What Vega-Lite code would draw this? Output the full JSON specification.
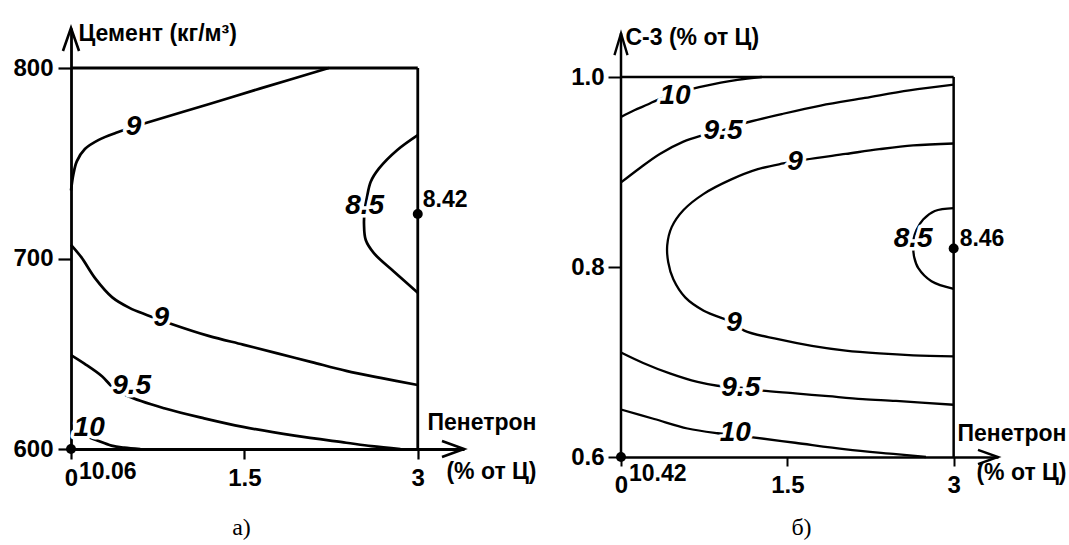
{
  "$schema": "https://vega.github.io/schema/vega-lite/v6.json",
  "background": "white",
  "padding": {"left": 12, "top": 22, "right": 2, "bottom": 2},
  "config": {
    "view": {"stroke": null},
    "font": "Liberation Sans",
    "axis": {"grid": false, "zindex": 1, "labelFont": "Liberation Sans", "labelFontWeight": "bold", "labelColor": "#000", "titleFont": "Liberation Sans", "titleFontWeight": "bold", "titleColor": "#000", "domainColor": "#000", "tickColor": "#000", "labelFlush": false, "labelOverlap": false}
  },
  "datasets": {
    "a_curves": [
      {"curve": "9 upper", "i": 0, "x": 0, "y": 735.7},
      {"curve": "9 upper", "i": 1, "x": 0.02, "y": 744},
      {"curve": "9 upper", "i": 2, "x": 0.05, "y": 751},
      {"curve": "9 upper", "i": 3, "x": 0.12, "y": 757.5},
      {"curve": "9 upper", "i": 4, "x": 0.24, "y": 762.3},
      {"curve": "9 upper", "i": 5, "x": 0.39, "y": 766},
      {"curve": "9 upper", "i": 6, "x": 0.54, "y": 769},
      {"curve": "9 upper", "i": 7, "x": 0.64, "y": 771},
      {"curve": "9 upper", "i": 8, "x": 1.19, "y": 781},
      {"curve": "9 upper", "i": 9, "x": 1.64, "y": 789.3},
      {"curve": "9 upper", "i": 10, "x": 2.23, "y": 800},
      {"curve": "8.5", "i": 0, "x": 3, "y": 764.8},
      {"curve": "8.5", "i": 1, "x": 2.823, "y": 757},
      {"curve": "8.5", "i": 2, "x": 2.665, "y": 747.3},
      {"curve": "8.5", "i": 3, "x": 2.593, "y": 740.3},
      {"curve": "8.5", "i": 4, "x": 2.56, "y": 732},
      {"curve": "8.5", "i": 5, "x": 2.54, "y": 725},
      {"curve": "8.5", "i": 6, "x": 2.535, "y": 718},
      {"curve": "8.5", "i": 7, "x": 2.55, "y": 709.7},
      {"curve": "8.5", "i": 8, "x": 2.622, "y": 702.7},
      {"curve": "8.5", "i": 9, "x": 2.795, "y": 693.1},
      {"curve": "8.5", "i": 10, "x": 3, "y": 682},
      {"curve": "9 lower", "i": 0, "x": 0, "y": 707.2},
      {"curve": "9 lower", "i": 1, "x": 0.089, "y": 700.7},
      {"curve": "9 lower", "i": 2, "x": 0.208, "y": 689.7},
      {"curve": "9 lower", "i": 3, "x": 0.357, "y": 679.6},
      {"curve": "9 lower", "i": 4, "x": 0.506, "y": 674.1},
      {"curve": "9 lower", "i": 5, "x": 0.655, "y": 670.4},
      {"curve": "9 lower", "i": 6, "x": 0.863, "y": 665.8},
      {"curve": "9 lower", "i": 7, "x": 1.19, "y": 659.4},
      {"curve": "9 lower", "i": 8, "x": 1.488, "y": 654.8},
      {"curve": "9 lower", "i": 9, "x": 1.786, "y": 650.2},
      {"curve": "9 lower", "i": 10, "x": 2.083, "y": 645.6},
      {"curve": "9 lower", "i": 11, "x": 2.381, "y": 641},
      {"curve": "9 lower", "i": 12, "x": 2.679, "y": 637.3},
      {"curve": "9 lower", "i": 13, "x": 3, "y": 633.6},
      {"curve": "9.5", "i": 0, "x": 0, "y": 649.3},
      {"curve": "9.5", "i": 1, "x": 0.119, "y": 644.7},
      {"curve": "9.5", "i": 2, "x": 0.268, "y": 638.2},
      {"curve": "9.5", "i": 3, "x": 0.36, "y": 632.5},
      {"curve": "9.5", "i": 4, "x": 0.49, "y": 627.8},
      {"curve": "9.5", "i": 5, "x": 0.806, "y": 621.4},
      {"curve": "9.5", "i": 6, "x": 1.152, "y": 616.1},
      {"curve": "9.5", "i": 7, "x": 1.488, "y": 611.6},
      {"curve": "9.5", "i": 8, "x": 1.935, "y": 607},
      {"curve": "9.5", "i": 9, "x": 2.381, "y": 603.3},
      {"curve": "9.5", "i": 10, "x": 2.6, "y": 601.5},
      {"curve": "9.5", "i": 11, "x": 2.85, "y": 600},
      {"curve": "10", "i": 0, "x": 0, "y": 609},
      {"curve": "10", "i": 1, "x": 0.1, "y": 607.3},
      {"curve": "10", "i": 2, "x": 0.216, "y": 604.7},
      {"curve": "10", "i": 3, "x": 0.35, "y": 601.8},
      {"curve": "10", "i": 4, "x": 0.46, "y": 600.7},
      {"curve": "10", "i": 5, "x": 0.6, "y": 600}
    ],
    "a_labels": [
      {"level": 9, "x": 0.54, "y": 769},
      {"level": 8.5, "x": 2.541, "y": 727.6},
      {"level": 9, "x": 0.78, "y": 668.6},
      {"level": 9.5, "x": 0.525, "y": 633},
      {"level": 10, "x": 0.157, "y": 611}
    ],
    "a_points": [
      {"x": 0, "y": 600, "value": 10.06},
      {"x": 3, "y": 723.4, "value": 8.42}
    ],
    "b_curves": [
      {"curve": "10 upper", "i": 0, "x": 0, "y": 0.958},
      {"curve": "10 upper", "i": 1, "x": 0.12, "y": 0.965},
      {"curve": "10 upper", "i": 2, "x": 0.24, "y": 0.971},
      {"curve": "10 upper", "i": 3, "x": 0.33, "y": 0.976},
      {"curve": "10 upper", "i": 4, "x": 0.49, "y": 0.982},
      {"curve": "10 upper", "i": 5, "x": 0.66, "y": 0.988},
      {"curve": "10 upper", "i": 6, "x": 0.9, "y": 0.994},
      {"curve": "10 upper", "i": 7, "x": 1.05, "y": 0.997},
      {"curve": "10 upper", "i": 8, "x": 1.27, "y": 1.0},
      {"curve": "9.5 upper", "i": 0, "x": 0, "y": 0.889},
      {"curve": "9.5 upper", "i": 1, "x": 0.168, "y": 0.904},
      {"curve": "9.5 upper", "i": 2, "x": 0.35, "y": 0.919},
      {"curve": "9.5 upper", "i": 3, "x": 0.563, "y": 0.932},
      {"curve": "9.5 upper", "i": 4, "x": 0.716, "y": 0.938},
      {"curve": "9.5 upper", "i": 5, "x": 0.92, "y": 0.944},
      {"curve": "9.5 upper", "i": 6, "x": 1.1, "y": 0.951},
      {"curve": "9.5 upper", "i": 7, "x": 1.45, "y": 0.961},
      {"curve": "9.5 upper", "i": 8, "x": 1.8, "y": 0.97},
      {"curve": "9.5 upper", "i": 9, "x": 2.2, "y": 0.978},
      {"curve": "9.5 upper", "i": 10, "x": 2.6, "y": 0.986},
      {"curve": "9.5 upper", "i": 11, "x": 3, "y": 0.992},
      {"curve": "9", "i": 0, "x": 3, "y": 0.93},
      {"curve": "9", "i": 1, "x": 2.635, "y": 0.928},
      {"curve": "9", "i": 2, "x": 2.33, "y": 0.924},
      {"curve": "9", "i": 3, "x": 2.026, "y": 0.919},
      {"curve": "9", "i": 4, "x": 1.66, "y": 0.913},
      {"curve": "9", "i": 5, "x": 1.462, "y": 0.909},
      {"curve": "9", "i": 6, "x": 1.234, "y": 0.903},
      {"curve": "9", "i": 7, "x": 0.99, "y": 0.892},
      {"curve": "9", "i": 8, "x": 0.746, "y": 0.877},
      {"curve": "9", "i": 9, "x": 0.564, "y": 0.86},
      {"curve": "9", "i": 10, "x": 0.457, "y": 0.842},
      {"curve": "9", "i": 11, "x": 0.417, "y": 0.823},
      {"curve": "9", "i": 12, "x": 0.426, "y": 0.805},
      {"curve": "9", "i": 13, "x": 0.472, "y": 0.787},
      {"curve": "9", "i": 14, "x": 0.579, "y": 0.768},
      {"curve": "9", "i": 15, "x": 0.746, "y": 0.754},
      {"curve": "9", "i": 16, "x": 1.02, "y": 0.741},
      {"curve": "9", "i": 17, "x": 1.112, "y": 0.733},
      {"curve": "9", "i": 18, "x": 1.416, "y": 0.724},
      {"curve": "9", "i": 19, "x": 1.721, "y": 0.717},
      {"curve": "9", "i": 20, "x": 2.026, "y": 0.712},
      {"curve": "9", "i": 21, "x": 2.33, "y": 0.709},
      {"curve": "9", "i": 22, "x": 2.635, "y": 0.707},
      {"curve": "9", "i": 23, "x": 3, "y": 0.706},
      {"curve": "8.5", "i": 0, "x": 3, "y": 0.862},
      {"curve": "8.5", "i": 1, "x": 2.83, "y": 0.859},
      {"curve": "8.5", "i": 2, "x": 2.725, "y": 0.85},
      {"curve": "8.5", "i": 3, "x": 2.665, "y": 0.839},
      {"curve": "8.5", "i": 4, "x": 2.64, "y": 0.83},
      {"curve": "8.5", "i": 5, "x": 2.635, "y": 0.82},
      {"curve": "8.5", "i": 6, "x": 2.645, "y": 0.81},
      {"curve": "8.5", "i": 7, "x": 2.68, "y": 0.799},
      {"curve": "8.5", "i": 8, "x": 2.8, "y": 0.785},
      {"curve": "8.5", "i": 9, "x": 3, "y": 0.777},
      {"curve": "9.5 lower", "i": 0, "x": 0, "y": 0.71},
      {"curve": "9.5 lower", "i": 1, "x": 0.2, "y": 0.699},
      {"curve": "9.5 lower", "i": 2, "x": 0.44, "y": 0.688},
      {"curve": "9.5 lower", "i": 3, "x": 0.69, "y": 0.679},
      {"curve": "9.5 lower", "i": 4, "x": 0.87, "y": 0.675},
      {"curve": "9.5 lower", "i": 5, "x": 1.08, "y": 0.673},
      {"curve": "9.5 lower", "i": 6, "x": 1.26, "y": 0.67},
      {"curve": "9.5 lower", "i": 7, "x": 1.57, "y": 0.667},
      {"curve": "9.5 lower", "i": 8, "x": 1.87, "y": 0.664},
      {"curve": "9.5 lower", "i": 9, "x": 2.18, "y": 0.661},
      {"curve": "9.5 lower", "i": 10, "x": 2.48, "y": 0.659},
      {"curve": "9.5 lower", "i": 11, "x": 3, "y": 0.655},
      {"curve": "10 lower", "i": 0, "x": 0, "y": 0.65},
      {"curve": "10 lower", "i": 1, "x": 0.3, "y": 0.64},
      {"curve": "10 lower", "i": 2, "x": 0.6, "y": 0.63},
      {"curve": "10 lower", "i": 3, "x": 0.87, "y": 0.625},
      {"curve": "10 lower", "i": 4, "x": 1.03, "y": 0.623},
      {"curve": "10 lower", "i": 5, "x": 1.17, "y": 0.621},
      {"curve": "10 lower", "i": 6, "x": 1.57, "y": 0.615},
      {"curve": "10 lower", "i": 7, "x": 2.03, "y": 0.608},
      {"curve": "10 lower", "i": 8, "x": 2.48, "y": 0.603},
      {"curve": "10 lower", "i": 9, "x": 2.75, "y": 0.6}
    ],
    "b_labels": [
      {"level": 10, "x": 0.488, "y": 0.98},
      {"level": 9.5, "x": 0.92, "y": 0.943},
      {"level": 9, "x": 1.57, "y": 0.911},
      {"level": 8.5, "x": 2.635, "y": 0.8295},
      {"level": 9, "x": 1.02, "y": 0.741},
      {"level": 9.5, "x": 1.08, "y": 0.673},
      {"level": 10, "x": 1.03, "y": 0.6253}
    ],
    "b_points": [
      {"x": 0, "y": 0.6, "value": 10.42},
      {"x": 3, "y": 0.8194, "value": 8.46}
    ]
  },
  "hconcat": [
    {
      "width": 393,
      "height": 421,
      "title": {"text": "а)", "orient": "bottom", "anchor": "middle", "frame": "group", "offset": 26, "dx": -26, "font": "Liberation Serif", "fontSize": 24, "fontWeight": "normal", "color": "#000", "baseline": "top"},
      "layer": [
        {
          "data": {"name": "a_curves"},
          "mark": {"type": "line", "color": "#000", "strokeWidth": 2.7, "interpolate": "catmull-rom"},
          "encoding": {
            "x": {"field": "x", "type": "quantitative", "scale": {"domain": [0, 3.4], "nice": false, "zero": false},
              "axis": {"values": [0, 1.5, 3], "format": "~g", "tickSize": 10, "tickWidth": 2.2, "domainWidth": 2.8, "labelFontSize": 24, "labelPadding": 7,
                "title": ["Пенетрон", "(% от Ц)"], "titleFontSize": 23, "titleAngle": 0, "titleX": 465, "titleY": -20, "titleAlign": "right", "titleBaseline": "alphabetic", "titleLineHeight": 49}},
            "y": {"field": "y", "type": "quantitative", "scale": {"domain": [600, 821], "nice": false, "zero": false},
              "axis": {"values": [600, 700, 800], "format": "d", "tickSize": 13, "tickWidth": 2.2, "domainWidth": 2.8, "labelFontSize": 24, "labelPadding": 5,
                "title": "Цемент (кг/м³)", "titleFontSize": 23, "titleAngle": 0, "titleX": 7, "titleY": 12, "titleAlign": "left", "titleBaseline": "alphabetic"}},
            "detail": {"field": "curve"},
            "order": {"field": "i", "type": "quantitative"}
          }
        },
        {
          "data": {"values": [{}]},
          "mark": {"type": "rule", "color": "#000", "strokeWidth": 2.8},
          "encoding": {"x": {"datum": 0, "type": "quantitative"}, "x2": {"datum": 3}, "y": {"datum": 800, "type": "quantitative"}}
        },
        {
          "data": {"values": [{}]},
          "mark": {"type": "rule", "color": "#000", "strokeWidth": 2.8},
          "encoding": {"x": {"datum": 3, "type": "quantitative"}, "y": {"datum": 600, "type": "quantitative"}, "y2": {"datum": 800}}
        },
        {
          "data": {"values": [{}]},
          "mark": {"type": "point", "shape": "M-1,-0.36L0,0L-1,0.36", "size": 1936, "filled": false, "color": "#000", "strokeWidth": 2.6, "opacity": 1},
          "encoding": {"x": {"datum": 3.4, "type": "quantitative"}, "y": {"datum": 600, "type": "quantitative"}}
        },
        {
          "data": {"values": [{}]},
          "mark": {"type": "point", "shape": "M-0.35,1L0,0L0.35,1", "size": 2116, "filled": false, "color": "#000", "strokeWidth": 2.6, "opacity": 1},
          "encoding": {"x": {"datum": 0, "type": "quantitative"}, "y": {"datum": 821, "type": "quantitative"}}
        },
        {
          "data": {"name": "a_labels"},
          "mark": {"type": "text", "font": "Liberation Sans", "fontSize": 28, "fontWeight": "bold", "fontStyle": "italic", "align": "center", "baseline": "middle", "fill": "#fff", "stroke": "#fff", "strokeWidth": 7, "strokeJoin": "round"},
          "encoding": {"x": {"field": "x", "type": "quantitative"}, "y": {"field": "y", "type": "quantitative"}, "text": {"field": "level", "type": "quantitative", "format": "~g"}}
        },
        {
          "data": {"name": "a_labels"},
          "mark": {"type": "text", "font": "Liberation Sans", "fontSize": 28, "fontWeight": "bold", "fontStyle": "italic", "align": "center", "baseline": "middle", "color": "#000"},
          "encoding": {"x": {"field": "x", "type": "quantitative"}, "y": {"field": "y", "type": "quantitative"}, "text": {"field": "level", "type": "quantitative", "format": "~g"}}
        },
        {
          "data": {"name": "a_points"},
          "mark": {"type": "circle", "size": 100, "color": "#000", "opacity": 1},
          "encoding": {"x": {"field": "x", "type": "quantitative"}, "y": {"field": "y", "type": "quantitative"}}
        },
        {
          "data": {"name": "a_points"},
          "transform": [{"filter": "datum.x == 0"}],
          "mark": {"type": "text", "fontSize": 23, "fontWeight": "bold", "align": "left", "baseline": "alphabetic", "dx": 8, "dy": 30, "color": "#000"},
          "encoding": {"x": {"field": "x", "type": "quantitative"}, "y": {"field": "y", "type": "quantitative"}, "text": {"field": "value", "type": "quantitative", "format": ".2f"}}
        },
        {
          "data": {"name": "a_points"},
          "transform": [{"filter": "datum.x == 3"}],
          "mark": {"type": "text", "fontSize": 23, "fontWeight": "bold", "align": "left", "baseline": "alphabetic", "dx": 5, "dy": -7, "color": "#000"},
          "encoding": {"x": {"field": "x", "type": "quantitative"}, "y": {"field": "y", "type": "quantitative"}, "text": {"field": "value", "type": "quantitative", "format": ".2f"}}
        }
      ]
    },
    {
      "width": 377,
      "height": 429,
      "title": {"text": "б)", "orient": "bottom", "anchor": "middle", "frame": "group", "offset": 19, "dx": -8, "font": "Liberation Serif", "fontSize": 24, "fontWeight": "normal", "color": "#000", "baseline": "top"},
      "layer": [
        {
          "data": {"name": "b_curves"},
          "mark": {"type": "line", "color": "#000", "strokeWidth": 2.3, "interpolate": "catmull-rom"},
          "encoding": {
            "x": {"field": "x", "type": "quantitative", "scale": {"domain": [0, 3.4], "nice": false, "zero": false},
              "axis": {"values": [0, 1.5, 3], "format": "~g", "tickSize": 9, "tickWidth": 2, "domainWidth": 2.5, "labelFontSize": 24, "labelPadding": 7,
                "title": ["Пенетрон", "(% от Ц)"], "titleFontSize": 23, "titleAngle": 0, "titleX": 445, "titleY": -17, "titleAlign": "right", "titleBaseline": "alphabetic", "titleLineHeight": 39}},
            "y": {"field": "y", "type": "quantitative", "scale": {"domain": [0.6, 1.0516], "nice": false, "zero": false},
              "axis": {"values": [0.6, 0.8, 1.0], "format": ".1f", "domain": false, "tickSize": 13, "tickWidth": 2, "labelFontSize": 24, "labelPadding": 4,
                "title": "С-3 (% от Ц)", "titleFontSize": 23, "titleAngle": 0, "titleX": 4, "titleY": 16, "titleAlign": "left", "titleBaseline": "alphabetic"}},
            "detail": {"field": "curve"},
            "order": {"field": "i", "type": "quantitative"}
          }
        },
        {
          "data": {"values": [{}]},
          "mark": {"type": "rule", "color": "#000", "strokeWidth": 2.5},
          "encoding": {"x": {"datum": 0, "type": "quantitative"}, "y": {"datum": 0.6, "type": "quantitative"}, "y2": {"datum": 1.046}}
        },
        {
          "data": {"values": [{}]},
          "mark": {"type": "rule", "color": "#000", "strokeWidth": 2.5},
          "encoding": {"x": {"datum": 0, "type": "quantitative"}, "x2": {"datum": 3}, "y": {"datum": 1.0, "type": "quantitative"}}
        },
        {
          "data": {"values": [{}]},
          "mark": {"type": "rule", "color": "#000", "strokeWidth": 2.5},
          "encoding": {"x": {"datum": 3, "type": "quantitative"}, "y": {"datum": 0.6, "type": "quantitative"}, "y2": {"datum": 1.0}}
        },
        {
          "data": {"values": [{}]},
          "mark": {"type": "point", "shape": "M-1,-0.36L0,0L-1,0.36", "size": 1600, "filled": false, "color": "#000", "strokeWidth": 2.4, "opacity": 1},
          "encoding": {"x": {"datum": 3.4, "type": "quantitative"}, "y": {"datum": 0.6, "type": "quantitative"}}
        },
        {
          "data": {"values": [{}]},
          "mark": {"type": "point", "shape": "M-0.3,1L0,0L0.3,1", "size": 1900, "filled": false, "color": "#000", "strokeWidth": 2.4, "opacity": 1},
          "encoding": {"x": {"datum": 0, "type": "quantitative"}, "y": {"datum": 1.046, "type": "quantitative"}}
        },
        {
          "data": {"name": "b_labels"},
          "mark": {"type": "text", "font": "Liberation Sans", "fontSize": 28, "fontWeight": "bold", "fontStyle": "italic", "align": "center", "baseline": "middle", "fill": "#fff", "stroke": "#fff", "strokeWidth": 7, "strokeJoin": "round"},
          "encoding": {"x": {"field": "x", "type": "quantitative"}, "y": {"field": "y", "type": "quantitative"}, "text": {"field": "level", "type": "quantitative", "format": "~g"}}
        },
        {
          "data": {"name": "b_labels"},
          "mark": {"type": "text", "font": "Liberation Sans", "fontSize": 28, "fontWeight": "bold", "fontStyle": "italic", "align": "center", "baseline": "middle", "color": "#000"},
          "encoding": {"x": {"field": "x", "type": "quantitative"}, "y": {"field": "y", "type": "quantitative"}, "text": {"field": "level", "type": "quantitative", "format": "~g"}}
        },
        {
          "data": {"name": "b_points"},
          "mark": {"type": "circle", "size": 100, "color": "#000", "opacity": 1},
          "encoding": {"x": {"field": "x", "type": "quantitative"}, "y": {"field": "y", "type": "quantitative"}}
        },
        {
          "data": {"name": "b_points"},
          "transform": [{"filter": "datum.x == 0"}],
          "mark": {"type": "text", "fontSize": 23, "fontWeight": "bold", "align": "left", "baseline": "alphabetic", "dx": 8, "dy": 24, "color": "#000"},
          "encoding": {"x": {"field": "x", "type": "quantitative"}, "y": {"field": "y", "type": "quantitative"}, "text": {"field": "value", "type": "quantitative", "format": ".2f"}}
        },
        {
          "data": {"name": "b_points"},
          "transform": [{"filter": "datum.x == 3"}],
          "mark": {"type": "text", "fontSize": 23, "fontWeight": "bold", "align": "left", "baseline": "alphabetic", "dx": 6, "dy": -3, "color": "#000"},
          "encoding": {"x": {"field": "x", "type": "quantitative"}, "y": {"field": "y", "type": "quantitative"}, "text": {"field": "value", "type": "quantitative", "format": ".2f"}}
        }
      ]
    }
  ],
  "spacing": 157,
  "bounds": "flush"
}
